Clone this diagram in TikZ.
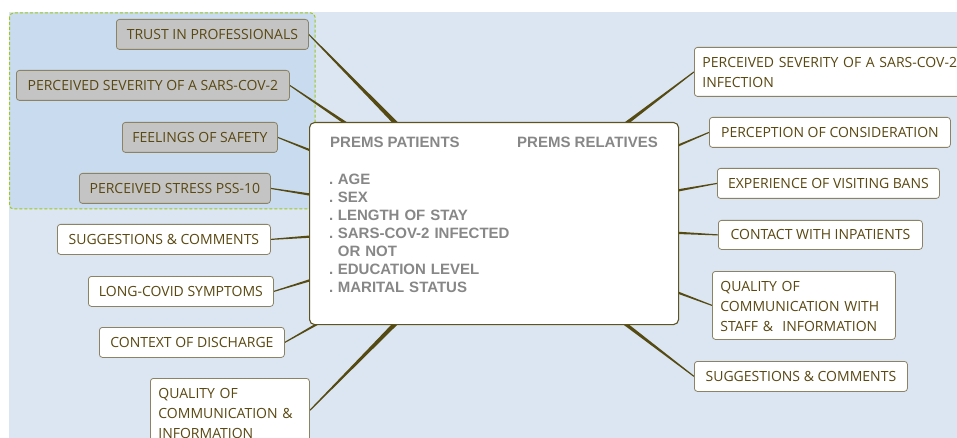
\documentclass[tikz,border=0pt]{standalone}
\usepackage{fontspec}
\setmainfont{Open Sans}
\newfontfamily\ctrfont{Liberation Sans}
\usetikzlibrary{calc}
\definecolor{bgblue}{HTML}{DCE6F2}
\definecolor{hiblue}{HTML}{C9DCEF}
\definecolor{hidash}{HTML}{9EC81A}
\definecolor{txt}{HTML}{5A4812}
\definecolor{bord}{HTML}{8C8264}
\definecolor{greyfill}{HTML}{C4C4C4}
\definecolor{conncol}{HTML}{554A12}
\definecolor{ctrtxt}{HTML}{878787}
\definecolor{ctrbord}{HTML}{5E5420}
\pgfdeclarelayer{background}
\pgfsetlayers{background,main}
\newcommand\conn[2]{%
  \fill[conncol] let \p1=(#1), \p2=(#2), \n1={atan2(\y2-\y1,\x2-\x1)} in
    ($(\p1)+(\n1+90:4pt)$) -- ($(\p2)+(\n1+90:0.55pt)$) --
    ($(\p2)+(\n1-90:0.55pt)$) -- ($(\p1)+(\n1-90:4pt)$) -- cycle;}
\tikzset{
  topic/.style={draw=bord, line width=0.8pt, fill=white, rounded corners=3pt,
    text=txt, font=\fontsize{14}{20}\selectfont, inner sep=0pt,
    anchor=north west, minimum height=30pt, text height=10pt, text depth=0pt},
  greytopic/.style={topic, fill=greyfill},
  multitopic/.style={topic, align=left, inner xsep=8pt, inner ysep=0pt, text height=20pt},
  ctrbox/.style={draw=ctrbord, line width=1.1pt, fill=white, rounded corners=5pt,
    anchor=north west, inner sep=0pt},
  ctrtext/.style={text=ctrtxt, font=\ctrfont\bfseries\fontsize{15}{18}\selectfont,
    inner sep=0pt, anchor=north west, text height=11pt}
}
\begin{document}
\begin{tikzpicture}[x=1pt,y=-1pt]
\useasboundingbox (0,0) rectangle (957,438);
\clip (0,0) rectangle (957,438);
% central box
\node[ctrbox, minimum width=369pt, minimum height=202pt] (c) at (309,122) {};
\node[ctrtext] (hp) at (330,136) {PREMS PATIENTS};
\node[ctrtext] (hr) at (517,136) {PREMS RELATIVES};
\node[ctrtext, align=left, text width=220pt] (lst) at (329,173) {.\hspace{0.3em}AGE\\.\hspace{0.3em}SEX\\.\hspace{0.3em}LENGTH OF STAY\\.\hspace{0.3em}SARS-COV-2 INFECTED\\\phantom{.}\hspace{0.3em}OR NOT\\.\hspace{0.3em}EDUCATION LEVEL\\.\hspace{0.3em}MARITAL STATUS};
% left topics
\node[greytopic, minimum width=192pt] (trust) at (116,19) {TRUST IN PROFESSIONALS};
\node[greytopic, minimum width=273pt] (sevL) at (16,70) {PERCEIVED SEVERITY OF A SARS-COV-2};
\node[greytopic, minimum width=155pt] (safety) at (122,122) {FEELINGS OF SAFETY};
\node[greytopic, minimum width=191pt] (stress) at (79,173) {PERCEIVED STRESS PSS-10};
\node[topic, minimum width=213pt] (suggL) at (57,224) {SUGGESTIONS \& COMMENTS};
\node[topic, minimum width=185pt] (longc) at (88,276) {LONG-COVID SYMPTOMS};
\node[topic, minimum width=185pt] (context) at (99,327) {CONTEXT OF DISCHARGE};
\node[multitopic, text width=143pt, text depth=44pt] (qualL) at (150,378) {QUALITY OF\\COMMUNICATION \&\\INFORMATION};
% right topics
\node[multitopic, text width=270pt, text depth=29pt] (sevR) at (694,47) {PERCEIVED SEVERITY OF A SARS-COV-2\\INFECTION};
\node[topic, minimum width=241pt] (consid) at (709,117) {PERCEPTION OF CONSIDERATION};
\node[topic, minimum width=222pt] (visit) at (717,168) {EXPERIENCE OF VISITING BANS};
\node[topic, minimum width=204pt, minimum height=29pt] (contact) at (718,220) {CONTACT WITH INPATIENTS};
\node[multitopic, text width=167pt, text depth=48pt] (qualR) at (712,271) {QUALITY OF\\COMMUNICATION WITH\\STAFF \& \ INFORMATION};
\node[topic, minimum width=213pt] (suggR) at (694,361) {SUGGESTIONS \& COMMENTS};
\begin{pgfonlayer}{background}
\fill[bgblue] (9,12) rectangle (957,438);
\draw[hidash, fill=hiblue, line width=1pt, dash pattern=on 3pt off 2pt, rounded corners=4pt] (9.5,13) rectangle (315,209);
\conn{c}{trust.east}
\conn{c}{sevL.east}
\conn{c}{safety.east}
\conn{c}{stress.east}
\conn{c}{suggL.east}
\conn{c}{longc.east}
\conn{c}{context.east}
\conn{c}{qualL.east}
\conn{c}{sevR.west}
\conn{c}{consid.west}
\conn{c}{visit.west}
\conn{c}{contact.west}
\conn{c}{qualR.west}
\conn{c}{suggR.west}
\end{pgfonlayer}
\end{tikzpicture}
\end{document}
